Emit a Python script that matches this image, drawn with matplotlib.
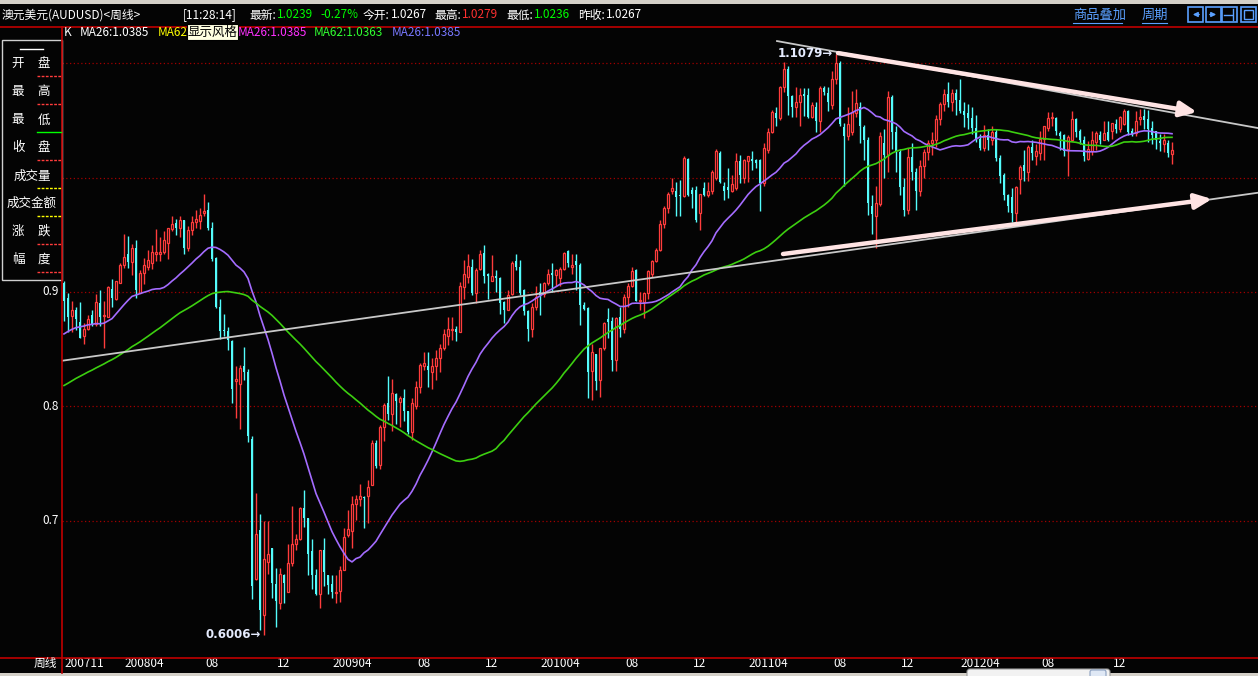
import numpy as np
import pandas as pd
import matplotlib
matplotlib.use("Agg")
import matplotlib.pyplot as plt
from matplotlib.patches import Rectangle, FancyBboxPatch

plt.rcParams['font.family'] = ['Noto Sans CJK SC', 'DejaVu Sans']

# ---------------- data (weekly AUDUSD) ----------------
open_ = [
0.908,0.895,0.879,0.884,0.874,0.862,0.868,0.880,0.872,0.890,
0.879,0.878,0.903,0.894,0.908,0.924,0.933,0.926,0.938,0.899,
0.917,0.922,0.925,0.933,0.933,0.935,0.943,0.955,0.960,0.956,
0.963,0.938,0.954,0.961,0.962,0.969,0.972,0.956,0.930,0.887,
0.867,0.866,0.857,0.822,0.820,0.835,0.830,0.772,0.649,0.692,
0.618,0.664,0.676,0.645,0.628,0.653,0.638,0.663,0.680,0.684,
0.711,0.703,0.674,0.653,0.636,0.675,0.653,0.645,0.637,0.639,
0.657,0.688,0.691,0.715,0.719,0.721,0.722,0.731,0.768,0.749,
0.782,0.803,0.793,0.811,0.804,0.807,0.796,0.778,0.800,0.817,
0.835,0.835,0.830,0.835,0.842,0.851,0.862,0.867,0.868,0.865,
0.904,0.913,0.922,0.899,0.920,0.934,0.916,0.910,0.914,0.912,
0.891,0.884,0.898,0.927,0.922,0.902,0.883,0.868,0.887,0.900,
0.898,0.908,0.917,0.915,0.912,0.920,0.936,0.922,0.927,0.924,
0.889,0.886,0.831,0.846,0.823,0.851,0.876,0.875,0.841,0.878,
0.868,0.896,0.905,0.919,0.892,0.891,0.899,0.916,0.927,0.937,
0.959,0.973,0.988,0.988,0.985,0.984,1.016,0.989,0.989,0.969,
0.991,0.985,0.988,1.000,1.021,0.993,0.992,0.988,0.991,1.014,
1.000,1.014,1.016,1.015,1.015,0.995,1.024,1.040,1.056,1.052,
1.079,1.095,1.071,1.062,1.066,1.073,1.072,1.053,1.062,1.049,
1.078,1.074,1.063,1.086,1.100,1.044,1.036,1.040,1.056,1.062,
1.044,1.033,0.975,0.966,0.977,1.030,1.020,1.070,1.040,1.022,
0.992,0.972,1.018,1.005,0.988,1.010,1.022,1.030,1.033,1.051,
1.064,1.073,1.066,1.074,1.068,1.058,1.056,1.052,1.043,1.034,
1.026,1.037,1.033,1.040,1.017,1.002,0.985,0.983,0.969,0.999,
1.011,1.005,1.027,1.019,1.021,1.034,1.043,1.052,1.052,1.039,
1.037,1.025,1.033,1.051,1.041,1.033,1.016,1.023,1.031,1.037,
1.033,1.040,1.041,1.047,1.042,1.047,1.058,1.041,1.039,1.051,
1.054,1.051,1.043,1.041,1.032,1.029,1.030,1.0205]

high = [
0.910,0.899,0.892,0.887,0.891,0.873,0.880,0.884,0.898,0.902,
0.892,0.905,0.911,0.910,0.925,0.951,0.949,0.942,0.945,0.919,
0.930,0.937,0.941,0.955,0.948,0.953,0.956,0.966,0.964,0.966,
0.963,0.958,0.966,0.972,0.973,0.9855,0.979,0.961,0.931,0.894,
0.881,0.869,0.858,0.835,0.836,0.852,0.833,0.774,0.724,0.706,
0.700,0.700,0.676,0.659,0.659,0.654,0.680,0.713,0.689,0.712,
0.727,0.703,0.684,0.658,0.675,0.685,0.653,0.653,0.653,0.661,
0.694,0.710,0.722,0.723,0.732,0.722,0.736,0.771,0.771,0.784,
0.803,0.827,0.824,0.812,0.809,0.815,0.796,0.807,0.822,0.838,
0.848,0.848,0.842,0.849,0.855,0.868,0.878,0.878,0.870,0.909,
0.928,0.933,0.929,0.921,0.937,0.941,0.917,0.932,0.919,0.913,
0.892,0.902,0.927,0.933,0.928,0.903,0.884,0.890,0.905,0.908,
0.909,0.920,0.925,0.920,0.922,0.935,0.937,0.933,0.933,0.925,
0.891,0.887,0.855,0.846,0.851,0.874,0.886,0.878,0.878,0.887,
0.898,0.908,0.922,0.920,0.900,0.899,0.919,0.928,0.938,0.963,
0.975,0.987,1.000,0.996,0.998,1.019,1.017,0.992,0.993,0.986,
0.996,0.996,1.007,1.025,1.023,0.996,1.008,1.002,1.021,1.020,
1.016,1.019,1.023,1.016,1.016,1.030,1.043,1.059,1.062,1.080,
1.101,1.097,1.072,1.079,1.078,1.078,1.078,1.066,1.066,1.080,
1.080,1.079,1.093,1.1079,1.102,1.048,1.062,1.076,1.077,1.066,
1.046,1.035,0.985,0.993,1.040,1.042,1.076,1.072,1.045,1.025,
1.000,1.026,1.030,1.008,1.015,1.025,1.033,1.040,1.055,1.066,
1.077,1.083,1.077,1.077,1.086,1.066,1.064,1.062,1.055,1.038,
1.046,1.042,1.045,1.042,1.020,1.004,0.986,0.991,0.993,1.011,
1.024,1.028,1.033,1.029,1.041,1.045,1.057,1.057,1.053,1.041,
1.038,1.037,1.058,1.052,1.042,1.036,1.032,1.041,1.041,1.041,
1.049,1.049,1.048,1.051,1.054,1.060,1.059,1.043,1.058,1.060,
1.060,1.059,1.049,1.041,1.038,1.038,1.033,1.031]

low = [
0.875,0.865,0.865,0.867,0.860,0.855,0.867,0.870,0.870,0.870,
0.851,0.878,0.887,0.893,0.908,0.921,0.921,0.915,0.895,0.899,
0.907,0.919,0.920,0.927,0.927,0.933,0.929,0.953,0.950,0.948,
0.933,0.936,0.950,0.956,0.955,0.966,0.954,0.927,0.886,0.859,
0.862,0.849,0.803,0.790,0.780,0.823,0.769,0.632,0.648,0.605,
0.6006,0.654,0.633,0.607,0.623,0.628,0.638,0.661,0.675,0.683,
0.695,0.653,0.641,0.635,0.624,0.643,0.636,0.633,0.628,0.629,
0.657,0.686,0.676,0.701,0.713,0.694,0.698,0.731,0.746,0.745,
0.770,0.788,0.779,0.785,0.782,0.787,0.776,0.771,0.798,0.812,
0.832,0.817,0.815,0.823,0.830,0.849,0.854,0.858,0.857,0.865,
0.894,0.908,0.897,0.890,0.919,0.908,0.894,0.910,0.900,0.881,
0.873,0.884,0.897,0.919,0.897,0.880,0.857,0.861,0.884,0.880,
0.896,0.906,0.900,0.905,0.905,0.919,0.922,0.916,0.902,0.871,
0.884,0.807,0.806,0.814,0.808,0.849,0.860,0.831,0.831,0.861,
0.864,0.887,0.904,0.892,0.884,0.877,0.894,0.913,0.926,0.936,
0.956,0.969,0.986,0.966,0.966,0.983,0.984,0.973,0.961,0.954,
0.984,0.983,0.986,0.998,0.995,0.980,0.982,0.987,0.989,0.995,
0.995,0.996,1.007,1.008,0.971,0.993,1.021,1.039,1.045,1.050,
1.075,1.055,1.053,1.053,1.045,1.054,1.052,1.052,1.040,1.040,
1.072,1.058,1.060,1.082,1.045,0.993,1.033,1.037,1.053,1.030,
1.015,0.967,0.951,0.9387,0.975,1.000,1.005,1.025,1.005,0.985,
0.966,0.968,0.998,0.972,0.984,1.000,1.015,1.020,1.027,1.046,
1.058,1.062,1.058,1.055,1.056,1.044,1.042,1.038,1.031,1.024,
1.023,1.024,1.028,1.014,0.995,0.980,0.970,0.961,0.961,0.986,
0.997,0.997,1.015,1.011,1.015,1.015,1.041,1.045,1.037,1.024,
1.019,1.001,1.032,1.035,1.029,1.014,1.015,1.020,1.024,1.029,
1.033,1.032,1.034,1.039,1.040,1.046,1.037,1.036,1.036,1.046,
1.042,1.031,1.029,1.025,1.023,1.022,1.018,1.012]

close = [
0.892,0.878,0.884,0.876,0.860,0.868,0.876,0.872,0.891,0.878,
0.880,0.904,0.895,0.910,0.924,0.931,0.926,0.938,0.902,0.917,
0.924,0.928,0.935,0.935,0.935,0.945,0.956,0.959,0.956,0.963,
0.938,0.954,0.961,0.964,0.967,0.971,0.956,0.929,0.887,0.866,
0.866,0.858,0.815,0.824,0.834,0.830,0.774,0.643,0.689,0.622,
0.667,0.671,0.646,0.630,0.654,0.646,0.663,0.680,0.684,0.711,
0.703,0.671,0.653,0.636,0.675,0.655,0.644,0.638,0.638,0.657,
0.686,0.693,0.715,0.719,0.722,0.720,0.730,0.768,0.748,0.782,
0.801,0.793,0.812,0.805,0.807,0.796,0.778,0.803,0.817,0.836,
0.838,0.832,0.835,0.842,0.851,0.863,0.868,0.868,0.865,0.905,
0.916,0.923,0.899,0.919,0.933,0.914,0.914,0.914,0.912,0.890,
0.884,0.897,0.925,0.922,0.899,0.883,0.868,0.887,0.896,0.897,
0.908,0.916,0.915,0.919,0.920,0.934,0.925,0.924,0.924,0.889,
0.885,0.830,0.848,0.822,0.851,0.873,0.874,0.841,0.877,0.868,
0.896,0.905,0.918,0.892,0.893,0.899,0.918,0.927,0.937,0.959,
0.973,0.986,0.991,0.983,0.984,1.017,0.985,0.986,0.963,0.986,
0.985,0.988,1.005,1.023,0.996,0.988,0.989,0.994,1.014,1.002,
1.015,1.019,1.014,1.013,0.995,1.026,1.040,1.057,1.052,1.079,
1.095,1.071,1.062,1.066,1.072,1.071,1.053,1.063,1.049,1.078,
1.075,1.066,1.086,1.100,1.047,1.036,1.047,1.057,1.065,1.045,
1.033,0.978,0.968,0.978,1.036,1.020,1.070,1.040,1.022,0.992,
0.972,1.018,1.005,0.988,1.010,1.022,1.030,1.033,1.051,1.064,
1.073,1.066,1.074,1.068,1.058,1.055,1.052,1.043,1.034,1.026,
1.037,1.033,1.040,1.017,1.001,0.985,0.975,0.969,0.992,1.009,
1.006,1.027,1.021,1.023,1.034,1.045,1.052,1.053,1.041,1.036,
1.023,1.035,1.051,1.040,1.033,1.019,1.025,1.033,1.039,1.033,
1.039,1.033,1.048,1.042,1.053,1.058,1.040,1.037,1.049,1.053,
1.050,1.042,1.037,1.033,1.030,1.033,1.021,1.0239]

# weekly closes before the first visible candle (only feed the moving averages)
pre_close = [
0.755,0.752,0.746,0.748,0.753,0.758,0.770,0.772,0.771,0.768,
0.780,0.788,0.788,0.785,0.785,0.789,0.778,0.776,0.781,0.775,
0.776,0.776,0.783,0.790,0.778,0.782,0.793,0.802,0.808,0.818,
0.829,0.831,0.826,0.825,0.828,0.825,0.822,0.835,0.838,0.843,
0.849,0.849,0.860,0.874,0.883,0.866,0.852,0.844,0.805,0.818,
0.825,0.828,0.848,0.870,0.885,0.894,0.902,0.899,0.920,0.932,
0.915]

# x-axis labels (candle index where each label sits)
xlabel_idx = [20, 37, 55, 72, 90, 107, 124, 142, 159, 176, 194, 211, 229, 246, 264]
xlabel_txt = ["200804", "08", "12", "200904", "08", "12", "201004", "08", "12",
              "201104", "08", "12", "201204", "08", "12"]
first_label = "200711"
ytick_vals = [0.7, 0.8, 0.9]
grid_vals = [0.7, 0.8, 0.9, 1.0, 1.1]

# hand-drawn trend lines (candle index, price)
line_long = ([-1.0, 298.5], [0.8397, 0.9867])
line_top = ([178.25, 298.5], [1.1192, 1.0432])
arrow_top = ([193.5, 283.25], [1.1087, 1.0572])
arrow_bot = ([179.75, 287.0], [0.9332, 0.9812])

# ---------------- figure ----------------
W, H = 1258, 676
fig = plt.figure(figsize=(W / 100, H / 100), dpi=100, facecolor="#040404")

RED = "#ff3c3c"
CYAN = "#54fcfc"
GRID = "#a00000"

O = np.array(open_); C = np.array(close)
Hh = np.maximum(np.array(high), np.maximum(O, C))
Ll = np.minimum(np.array(low), np.minimum(O, C))
n = len(C)
idx = np.arange(n)

YLO, YHI = 0.5803, 1.1306
ax = fig.add_axes([62 / W, 1 - 658 / H, (W - 62) / W, (658 - 28) / H])
ax.set_facecolor("#040404")
ax.set_xlim(-0.5, 298.5)
ax.set_ylim(YLO, YHI)
for s in ax.spines.values():
    s.set_visible(False)
ax.set_xticks([]); ax.set_yticks([])

for g in grid_vals:
    ax.axhline(g, color=GRID, lw=0.9, ls=(0, (1, 2)), zorder=0)

# candles
top = np.maximum(O, C); bot = np.minimum(O, C)
hgt = np.maximum(top - bot, 0.0009)
up = C >= O
dn = ~up
bw = 0.72
ax.vlines(idx[dn], Ll[dn], Hh[dn], color=CYAN, lw=1.0, zorder=2)
ax.bar(idx[dn], hgt[dn], bottom=bot[dn], width=bw, color=CYAN, lw=0, zorder=3)
ax.vlines(idx[up], top[up], Hh[up], color=RED, lw=1.0, zorder=2)
ax.vlines(idx[up], Ll[up], bot[up], color=RED, lw=1.0, zorder=2)
ax.bar(idx[up], hgt[up], bottom=bot[up], width=bw, facecolor="#040404",
       edgecolor=RED, lw=0.9, zorder=3)

# moving averages
allc = pd.Series(np.r_[pre_close, close])
ma26 = allc.rolling(26).mean().values[len(pre_close):]
ma62 = allc.rolling(62).mean().values[len(pre_close):]
ax.plot(idx, ma26, color="#a46cff", lw=1.2, zorder=4)
ax.plot(idx, ma62, color="#3ccf10", lw=1.2, zorder=4)

# trend lines
ax.plot(*line_long, color="#c8c8c8", lw=1.3, zorder=5)
ax.plot(*line_top, color="#c8c8c8", lw=1.3, zorder=5)
for xs, ys in (arrow_top, arrow_bot):
    ax.annotate("", xy=(xs[1], ys[1]), xytext=(xs[0], ys[0]),
                arrowprops=dict(arrowstyle="-|>,head_length=1.0,head_width=0.45",
                                color="#ffe4e4", lw=3.2, mutation_scale=10,
                                shrinkA=0, shrinkB=0), zorder=6)

# extreme labels
imax = int(np.argmax(Hh)); imin = int(np.argmin(Ll))
for i0, v0 in ((imax, Hh[imax]), (imin, Ll[imin])):
    ax.annotate(f"{v0:.4f}\u2192", xy=(i0 - 0.6, v0), xytext=(-1, 0),
                textcoords="offset pixels", color="#e6ecff", fontsize=8.5,
                fontweight="bold", family="DejaVu Sans", va="center", ha="right",
                zorder=7)

# y labels (outside left)
for v in ytick_vals:
    ax.text(-1.3, v, f"{v:.1f}", color="white", fontsize=8.5, ha="right",
            va="center", clip_on=False)

# x labels below
ylab = YLO - 5 / 1144.8
ax.text(0, ylab, first_label, color="white", fontsize=8.5,
        ha="left", va="center", clip_on=False)
for i, t in zip(xlabel_idx, xlabel_txt):
    ax.text(i, ylab, t, color="white", fontsize=8.5,
            ha="center", va="center", clip_on=False)

# ---------------- overlay in pixel coordinates ----------------
ov = fig.add_axes([0, 0, 1, 1], facecolor="none")
ov.set_xlim(0, W); ov.set_ylim(H, 0); ov.axis("off"); ov.set_zorder(10)

# top strip and bottom strip
ov.add_patch(Rectangle((0, 0), W, 4, color="#d4d0c8", lw=0))
ov.add_patch(Rectangle((0, 673), W, 3, color="#d4d0c8", lw=0))
# small popup peeking at the bottom
ov.add_patch(FancyBboxPatch((967, 669), 143, 10, boxstyle="round,pad=0,rounding_size=3",
                            fc="#f2f2f2", ec="#9a9a9a", lw=0.8))
ov.add_patch(FancyBboxPatch((1090, 670), 16, 8, boxstyle="round,pad=0,rounding_size=2",
                            fc="#dfe8f5", ec="#8aa0c0", lw=0.8))
# frame lines
ov.plot([0, W], [27, 27], color="#c00000", lw=1.2)
ov.plot([0, W], [658, 658], color="#c00000", lw=1.2)
ov.plot([62, 62], [27, 673], color="#c00000", lw=1.2)

def T(x, y, s, color="white", size=8.5, ha="left", **kw):
    ov.text(x, y, s, color=color, fontsize=size, ha=ha, va="center", **kw)

# header row
T(2, 15, "澳元美元(AUDUSD)<周线>")
T(183, 15, "[11:28:14]")
T(249, 15, "最新:"); T(277, 15, "1.0239", "#00ff00"); T(320, 15, "-0.27%", "#00ff00")
T(363, 15, "今开:"); T(391, 15, "1.0267")
T(434, 15, "最高:"); T(462, 15, "1.0279", "#ff3030")
T(506, 15, "最低:"); T(534, 15, "1.0236", "#00ff00")
T(578, 15, "昨收:"); T(606, 15, "1.0267")
T(1073, 15, "商品叠加", "#5aa0ff", size=9.5)
T(1142, 15, "周期", "#5aa0ff", size=9.5)
ov.plot([1073, 1122], [23, 23], color="#5aa0ff", lw=0.8)
ov.plot([1142, 1167], [23, 23], color="#5aa0ff", lw=0.8)
for x0 in (1188, 1206, 1222, 1241):
    ov.add_patch(Rectangle((x0, 7), 15, 15, fill=False, ec="#5aa0ff", lw=1.2))
ov.annotate("", xy=(1190, 14.5), xytext=(1202, 14.5),
            arrowprops=dict(arrowstyle="-|>", color="#5aa0ff", lw=1, mutation_scale=7))
ov.annotate("", xy=(1219, 14.5), xytext=(1207, 14.5),
            arrowprops=dict(arrowstyle="-|>", color="#5aa0ff", lw=1, mutation_scale=7))
ov.plot([1224, 1232], [14.5, 14.5], color="#5aa0ff", lw=1)
ov.plot([1233, 1233], [9, 20], color="#5aa0ff", lw=1)
ov.add_patch(Rectangle((1244, 10), 9, 9, fill=False, ec="#5aa0ff", lw=1))

# indicator row
T(64, 33, "K")
T(80, 33, "MA26:1.0385")
T(158, 33, "MA62", "#ffff00")
T(238, 33, "MA26:1.0385", "#ff30ff")
T(314, 33, "MA62:1.0363", "#30ff30")
T(392, 33, "MA26:1.0385", "#7878ff")
ov.add_patch(Rectangle((187, 24), 51, 16, fc="#ffffe1", ec="black", lw=0.8, zorder=11))
ov.text(212.5, 32, "显示风格", color="black", fontsize=9, ha="center", va="center", zorder=12)

# left info panel
ov.add_patch(Rectangle((2, 40), 60, 240, fc="#040404", ec="#d0d0d0", lw=1.0))
ov.plot([20, 43], [49, 49], color="white", lw=1)
rows = [("开", "盘", 63, RED, "--"), ("最", "高", 92, RED, "--"), ("最", "低", 120, "#00ff00", "-"),
        ("收", "盘", 147, RED, "--"), (None, "成交量", 176, "#ffff00", "--"),
        (None, "成交金额", 203, "#ffff00", "--"), ("涨", "跌", 231, RED, "--"),
        ("幅", "度", 259, RED, "--")]
for k, (a, b, y, col, lsty) in enumerate(rows):
    if a is None:
        T(32, y, b, ha="center", size=9)
    else:
        T(18, y, a, ha="center", size=9); T(44, y, b, ha="center", size=9)
    yl = 76 + 28 * k
    ov.plot([37, 61], [yl, yl], color=col, lw=1.0, ls=(0, (2, 1)) if lsty == "--" else "-")

# bottom label
T(57, 663, "周线", ha="right")

fig.savefig("out.png", dpi=100, facecolor=fig.get_facecolor())
